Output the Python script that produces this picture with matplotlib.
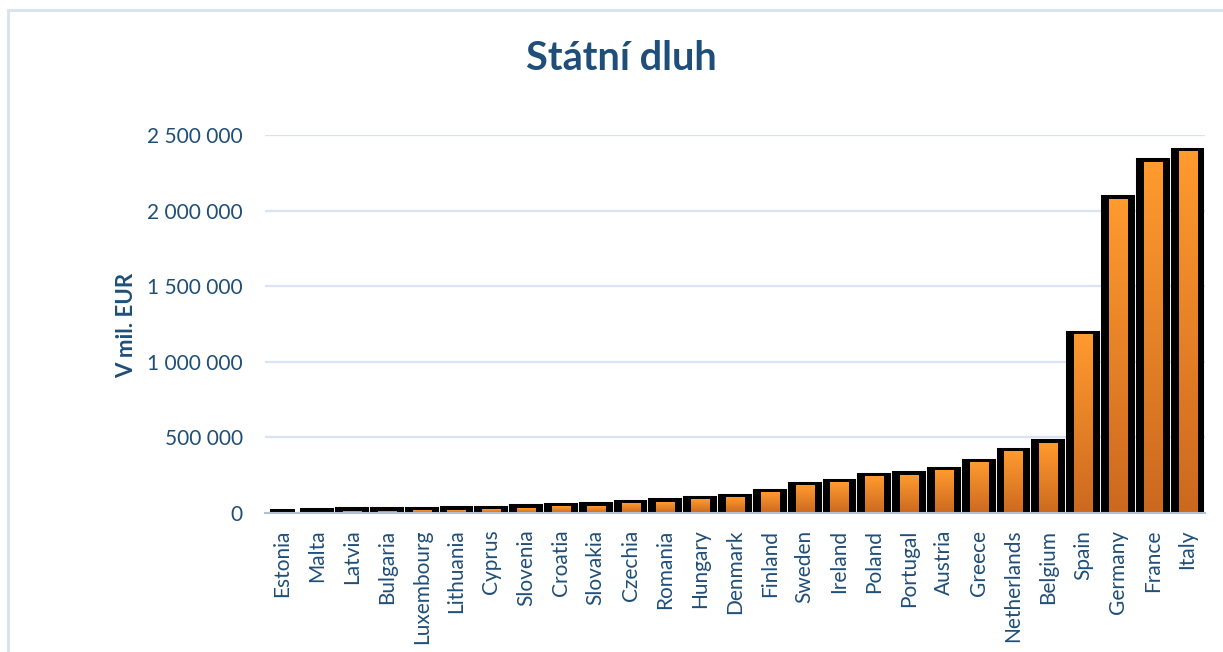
import matplotlib
matplotlib.use("Agg")
import matplotlib.pyplot as plt
import matplotlib.patches as patches
import numpy as np
from matplotlib.colors import LinearSegmentedColormap
from matplotlib.ticker import FuncFormatter

# statni dluh v mil. EUR (odhad z grafu)
countries = ["Estonia", "Malta", "Latvia", "Bulgaria", "Luxembourg", "Lithuania",
             "Cyprus", "Slovenia", "Croatia", "Slovakia", "Czechia", "Romania",
             "Hungary", "Denmark", "Finland", "Sweden", "Ireland", "Poland",
             "Portugal", "Austria", "Greece", "Netherlands", "Belgium", "Spain",
             "Germany", "France", "Italy"]
debt = [2500, 6000, 11000, 12000, 14000, 17000,
        22000, 32000, 40000, 45000, 62000, 70000,
        88000, 100000, 135000, 180000, 200000, 240000,
        250000, 280000, 332000, 405000, 460000, 1180000,
        2075000, 2320000, 2390000]
yticks = [0, 500000, 1000000, 1500000, 2000000, 2500000]

navy = "#1F4E79"


def fmt(v, pos):
    return "{:,}".format(int(v)).replace(",", " ")


def main():
    plt.rcParams['font.family'] = ['Lato', 'DejaVu Sans']
    fig = plt.figure(figsize=(12.23, 6.52), dpi=100)
    ax = fig.add_axes([265 / 1223, 1 - 513 / 652, 940 / 1223, 378 / 652])

    x = np.arange(len(countries))

    # cerne "stiny" za sloupci
    ax.bar(x, debt, width=0.74, color="black", edgecolor="black",
           linewidth=5.8, zorder=2)

    # oranzove sloupce s prechodem
    cmap = LinearSegmentedColormap.from_list("oranz", ["#CC691F", "#FF9A2F"])
    grad = np.linspace(0, 1, 100).reshape(-1, 1)
    for xi, v in zip(x, debt):
        ax.imshow(grad, cmap=cmap, origin="lower", aspect="auto",
                  extent=[xi - 0.26, xi + 0.26, 0, v], zorder=3)

    ax.set_xlim(-0.5, len(countries) - 0.5)
    ax.set_ylim(0, 2500000)
    ax.set_yticks(yticks)
    ax.yaxis.set_major_formatter(FuncFormatter(fmt))
    ax.set_xticks(x)
    ax.set_xticklabels(countries, rotation=90)
    ax.tick_params(axis="y", length=0, pad=16, labelsize=15, labelcolor=navy)
    ax.tick_params(axis="x", length=0, pad=12, labelsize=15, labelcolor=navy)

    ax.grid(axis="y", color="#D9E3F3", linewidth=1.6, zorder=0)
    ax.set_axisbelow(True)
    for s in ["top", "right", "left"]:
        ax.spines[s].set_visible(False)
    ax.spines["bottom"].set_color("#B4C0D2")
    ax.spines["bottom"].set_linewidth(1.5)
    ax.spines["bottom"].set_zorder(5)

    fig.text(621 / 1223, 1 - 58 / 652, "Státní dluh", ha="center", va="center",
             fontsize=28.5, fontweight="bold", color=navy)
    fig.text(127 / 1223, 1 - 325 / 652, "V mil. EUR", ha="center", va="center",
             rotation=90, fontsize=16, fontweight="bold", color=navy)

    # ramecek grafu
    fig.patches.append(patches.Rectangle((8 / 1223, -0.1), 1.2, 1 - 10 / 652 + 0.1,
                                         transform=fig.transFigure, fill=False,
                                         edgecolor="#D6E1F2", linewidth=2))

    fig.savefig("out.png", dpi=100)


if __name__ == '__main__':
    main()
